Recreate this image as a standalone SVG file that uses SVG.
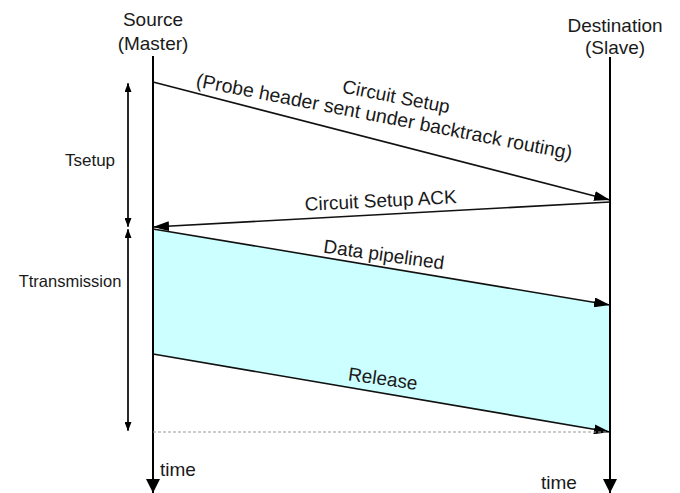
<svg xmlns="http://www.w3.org/2000/svg" width="680" height="493" viewBox="0 0 680 493">
<style>
text{font-family:"Liberation Sans",Arial,sans-serif;fill:#1a1a1a;font-size:19px}
.dim{font-size:17px}
.dim2{font-size:16.5px}
.probe{font-size:19.5px}
.life{stroke:#000;stroke-width:2;fill:none}
.msg{stroke:#111;stroke-width:1.6;fill:none}
.dimline{stroke:#000;stroke-width:1.2;fill:none}
</style>
<defs>
<marker id="ah" viewBox="0 0 16 10" refX="16" refY="5" markerWidth="16" markerHeight="10" markerUnits="userSpaceOnUse" orient="auto">
<path d="M0,0 L16,5 L0,10 Z" fill="#000"/>
</marker>
<marker id="big" viewBox="0 0 14 14" refX="14" refY="7" markerWidth="14" markerHeight="14" markerUnits="userSpaceOnUse" orient="auto">
<path d="M0,0 L14,7 L0,14 Z" fill="#000"/>
</marker>
<marker id="small" viewBox="0 0 9 7" refX="9" refY="3.5" markerWidth="9" markerHeight="7" markerUnits="userSpaceOnUse" orient="auto">
<path d="M0,0 L9,3.5 L0,7 Z" fill="#000"/>
</marker>
</defs>
<polygon points="153,229 610,305 610,432 153,354" fill="#ccffff"/>
<g id="source">
<text x="153" y="26" text-anchor="middle">Source</text>
<text x="153" y="50" text-anchor="middle">(Master)</text>
<line class="life" x1="153" y1="56" x2="153" y2="493" marker-end="url(#big)"/>
<text x="160" y="476">time</text>
</g>
<g id="destination">
<text x="615" y="32" text-anchor="middle">Destination</text>
<text x="615" y="54" text-anchor="middle">(Slave)</text>
<line class="life" x1="610" y1="57" x2="610" y2="493" marker-end="url(#big)"/>
<text x="559" y="489" text-anchor="middle">time</text>
</g>
<g id="tsetup">
<line class="dimline" x1="128" y1="226" x2="128" y2="83" marker-end="url(#small)"/>
<line class="dimline" x1="128" y1="84" x2="128" y2="227" marker-end="url(#small)"/>
<text class="dim" x="90" y="166" text-anchor="middle">Tsetup</text>
</g>
<g id="ttransmission">
<line class="dimline" x1="128" y1="430" x2="128" y2="229" marker-end="url(#small)"/>
<line class="dimline" x1="128" y1="230" x2="128" y2="431" marker-end="url(#small)"/>
<text class="dim2" x="70" y="287" text-anchor="middle">Ttransmission</text>
</g>
<g id="connectors">
<line class="msg" x1="153" y1="82" x2="610" y2="200" marker-end="url(#ah)"/>
<line class="msg" x1="610" y1="202" x2="153" y2="227" marker-end="url(#ah)"/>
<line class="msg" x1="153" y1="229" x2="610" y2="305" marker-end="url(#ah)"/>
<line class="msg" x1="153" y1="354" x2="610" y2="432" marker-end="url(#ah)"/>
<line x1="153" y1="432" x2="606" y2="432" stroke="#999" stroke-width="1" stroke-dasharray="3,2"/>
<text x="395" y="103" text-anchor="middle" transform="rotate(11 395 103)">Circuit Setup</text>
<text class="probe" x="383" y="123" text-anchor="middle" transform="rotate(11 383 123)">(Probe header sent under backtrack routing)</text>
<text x="381" y="207" text-anchor="middle" transform="rotate(-2.9 381 207)">Circuit Setup ACK</text>
<text x="383" y="261" text-anchor="middle" transform="rotate(8 383 261)">Data pipelined</text>
<text x="382" y="385" text-anchor="middle" transform="rotate(8 382 385)">Release</text>
</g>
</svg>
